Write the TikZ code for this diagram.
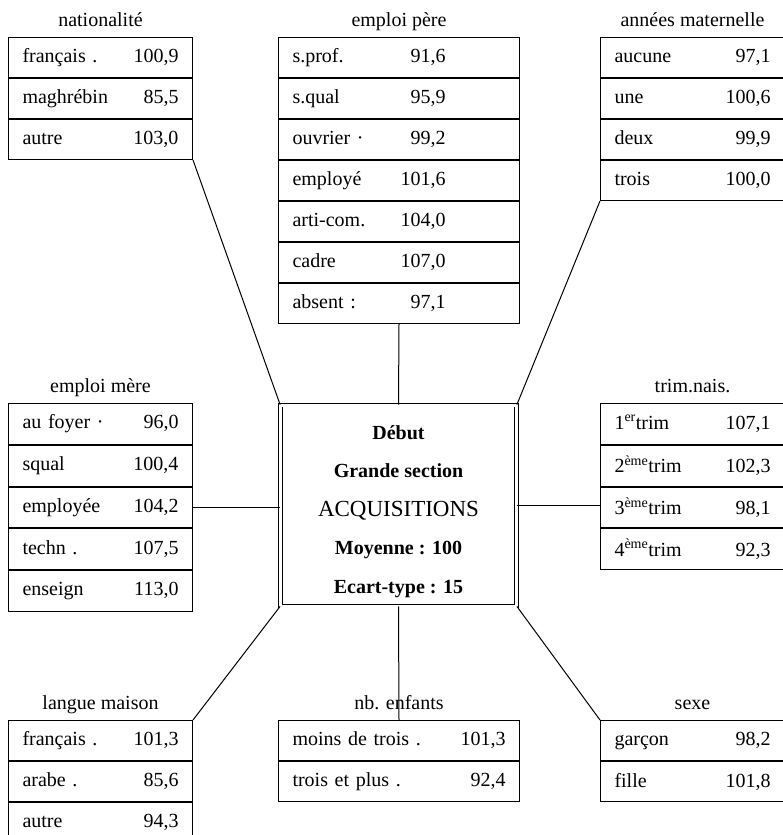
\documentclass[tikz,border=0pt]{standalone}
\usepackage{fontspec}
\setmainfont{Liberation Serif}
\usetikzlibrary{positioning}

\begin{document}
\begin{tikzpicture}[
  x=1pt, y=-1pt,
  cell/.style={draw, line width=1pt, minimum height=40pt, text width=#1,
               inner xsep=14pt, inner ysep=0pt, font=\fontsize{20}{24}\selectfont},
  cell/.default=156pt,
  tallcell/.style={cell, minimum height=40.8pt},
  head/.style={inner sep=0pt, text depth=5pt, font=\fontsize{20}{24}\selectfont},
  centrebox/.style={draw, double, double distance=3pt, line width=.8pt,
                    minimum width=236pt, minimum height=201pt, align=center,
                    font=\bfseries\fontsize{20}{38.5}\selectfont},
  link/.style={line width=1pt}
]
\useasboundingbox (0,0) rectangle (782,835);

\node[centrebox] (centre) at (398.5,505.5)
  {\rule{0pt}{26pt}Début\\ Grande section\\ {\mdseries\fontsize{23}{38.5}\selectfont ACQUISITIONS}\\
   Moyenne : 100\\ Ecart-type : 15};

% nationalite
\node[cell, anchor=north west] (nat1) at (8,37) {français .\hfill 100,9};
\node[cell, below=0pt of nat1] (nat2) {maghrébin\hfill 85,5};
\node[cell, below=0pt of nat2] (nat3) {autre\hfill 103,0};
\node[head, above=5pt of nat1] (natT) {nationalité};

% emploi pere
\node[cell=213pt, anchor=north west] (pere1) at (278,37) {s.prof.\hfill 91,6\makebox[60pt]{}};
\node[cell=213pt, below=0pt of pere1] (pere2) {s.qual\hfill 95,9\makebox[60pt]{}};
\node[cell=213pt, below=0pt of pere2] (pere3) {ouvrier ·\hfill 99,2\makebox[60pt]{}};
\node[cell=213pt, below=0pt of pere3] (pere4) {employé\hfill 101,6\makebox[60pt]{}};
\node[cell=213pt, below=0pt of pere4] (pere5) {arti-com.\hfill 104,0\makebox[60pt]{}};
\node[cell=213pt, below=0pt of pere5] (pere6) {cadre\hfill 107,0\makebox[60pt]{}};
\node[cell=213pt, below=0pt of pere6] (pere7) {absent :\hfill 97,1\makebox[60pt]{}};
\node[head, above=5pt of pere1] (pereT) {emploi père};

% annees maternelle
\node[cell, anchor=north west] (mat1) at (600,37) {aucune\hfill 97,1};
\node[cell, below=0pt of mat1] (mat2) {une\hfill 100,6};
\node[cell, below=0pt of mat2] (mat3) {deux\hfill 99,9};
\node[cell, below=0pt of mat3] (mat4) {trois\hfill 100,0};
\node[head, above=5pt of mat1] (matT) {années maternelle};

% emploi mere
\node[tallcell, anchor=north west] (mere1) at (8,403) {au foyer ·\hfill 96,0};
\node[tallcell, below=0pt of mere1] (mere2) {squal\hfill 100,4};
\node[tallcell, below=0pt of mere2] (mere3) {employée\hfill 104,2};
\node[tallcell, below=0pt of mere3] (mere4) {techn .\hfill 107,5};
\node[tallcell, below=0pt of mere4] (mere5) {enseign\hfill 113,0};
\node[head, above=5pt of mere1] (mereT) {emploi mère};

% trimestre de naissance
\node[tallcell, anchor=north west] (trim1) at (600,403) {1\textsuperscript{er}trim\hfill 107,1};
\node[tallcell, below=0pt of trim1] (trim2) {2\textsuperscript{ème}trim\hfill 102,3};
\node[tallcell, below=0pt of trim2] (trim3) {3\textsuperscript{ème}trim\hfill 98,1};
\node[tallcell, below=0pt of trim3] (trim4) {4\textsuperscript{ème}trim\hfill 92,3};
\node[head, above=5pt of trim1] (trimT) {trim.nais.};

% langue maison
\node[cell, anchor=north west] (lang1) at (8,720) {français .\hfill 101,3};
\node[cell, below=0pt of lang1] (lang2) {arabe .\hfill 85,6};
\node[cell, below=0pt of lang2] (lang3) {autre\hfill 94,3};
\node[head, above=5pt of lang1] (langT) {langue maison};

% nb enfants
\node[cell=213pt, anchor=north west] (enf1) at (278,720) {moins de trois .\hfill 101,3};
\node[cell=213pt, below=0pt of enf1] (enf2) {trois et plus .\hfill 92,4};
\node[head, above=5pt of enf1] (enfT) {nb. enfants};

% sexe
\node[cell, anchor=north west] (sexe1) at (600,720) {garçon\hfill 98,2};
\node[cell, below=0pt of sexe1] (sexe2) {fille\hfill 101,8};
\node[head, above=5pt of sexe1] (sexeT) {sexe};

\draw[link] (nat3.south east) -- (centre.north west);
\draw[link] (pere7.south) -- (centre.north);
\draw[link] (mat4.south west) -- (centre.north east);
\draw[link] (mere3.east) -- (mere3.east -| centre.west);
\draw[link] (centre.east) -- (centre.east -| trim3.west);
\draw[link] (centre.south west) -- (lang1.north east);
\draw[link] (centre.south) -- (enf1.north);
\draw[link] (centre.south east) -- (sexe1.north west);
\end{tikzpicture}
\end{document}
